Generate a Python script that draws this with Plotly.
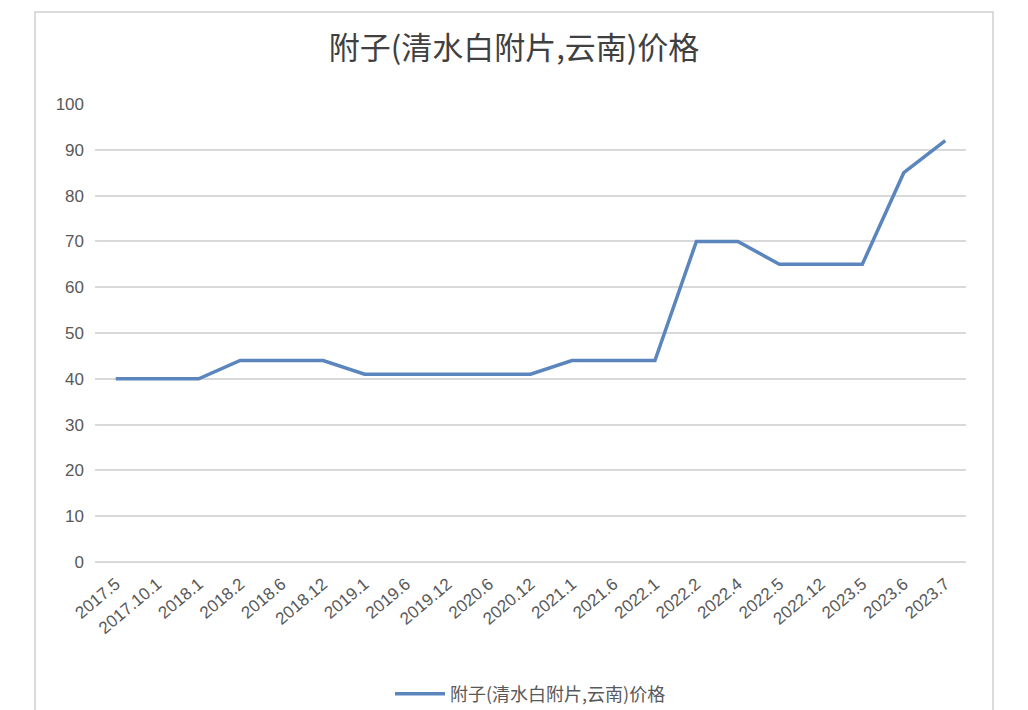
import plotly.graph_objects as go

categories = ["2017.5", "2017.10.1", "2018.1", "2018.2", "2018.6", "2018.12", "2019.1",
              "2019.6", "2019.12", "2020.6", "2020.12", "2021.1", "2021.6", "2022.1",
              "2022.2", "2022.4", "2022.5", "2022.12", "2023.5", "2023.6", "2023.7"]
prices = [40, 40, 40, 44, 44, 44, 41, 41, 41, 41, 41, 44, 44, 44, 70, 70, 65, 65, 65, 85, 92]
series_name = "附子(清水白附片,云南)价格"
title_text = "附子(清水白附片,云南)价格"

W, H = 1028, 710
ml, mr, mt, mb = 95, 62, 104, 148
pw = W - ml - mr
ph = H - mt - mb

def px_x(p):
    return (p - ml) / pw

def px_y(p):
    return (H - mb - p) / ph

fig = go.Figure()
fig.add_trace(go.Scatter(
    x=categories, y=prices, mode="lines", name=series_name,
    line=dict(color="#5b86bd", width=3.5),
))

fig.update_layout(
    width=W, height=H,
    margin=dict(l=ml, r=mr, t=mt, b=mb, autoexpand=False),
    paper_bgcolor="white", plot_bgcolor="white",
    font=dict(family="Noto Sans CJK SC, Liberation Sans, sans-serif", color="#595959"),
    title=dict(text=title_text, x=0.5, xanchor="center", y=1 - 48 / H, yanchor="middle",
               font=dict(size=31, color="#404040", family="Noto Sans CJK SC")),
    showlegend=True,
    legend=dict(orientation="h", x=0.5, xanchor="center", y=px_y(694), yanchor="middle",
                font=dict(size=18, color="#595959"), itemwidth=50),
    xaxis=dict(type="category", tickangle=-40, showgrid=False, showline=False, automargin=False,
               ticks="", ticklabelstandoff=8,
               tickfont=dict(size=17, color="#595959", family="Liberation Sans"),
               range=[-0.5, len(categories) - 0.5]),
    yaxis=dict(range=[0, 100], dtick=10, showgrid=True, gridcolor="#d9d9d9", gridwidth=1.5,
               zeroline=True, zerolinecolor="#d9d9d9", zerolinewidth=1.5, showline=False,
               ticks="", ticklabelstandoff=10, automargin=False,
               tickfont=dict(size=17, color="#595959", family="Liberation Sans")),
    shapes=[dict(type="rect", xref="paper", yref="paper",
                 x0=px_x(35), x1=px_x(993), y0=px_y(730), y1=px_y(12),
                 line=dict(color="#d0d0d0", width=1.5), fillcolor="rgba(0,0,0,0)", layer="below")],
)

fig.write_html("out.html", config={"displayModeBar": False},
               post_script="document.body.style.margin='0';document.body.style.overflow='hidden';")
